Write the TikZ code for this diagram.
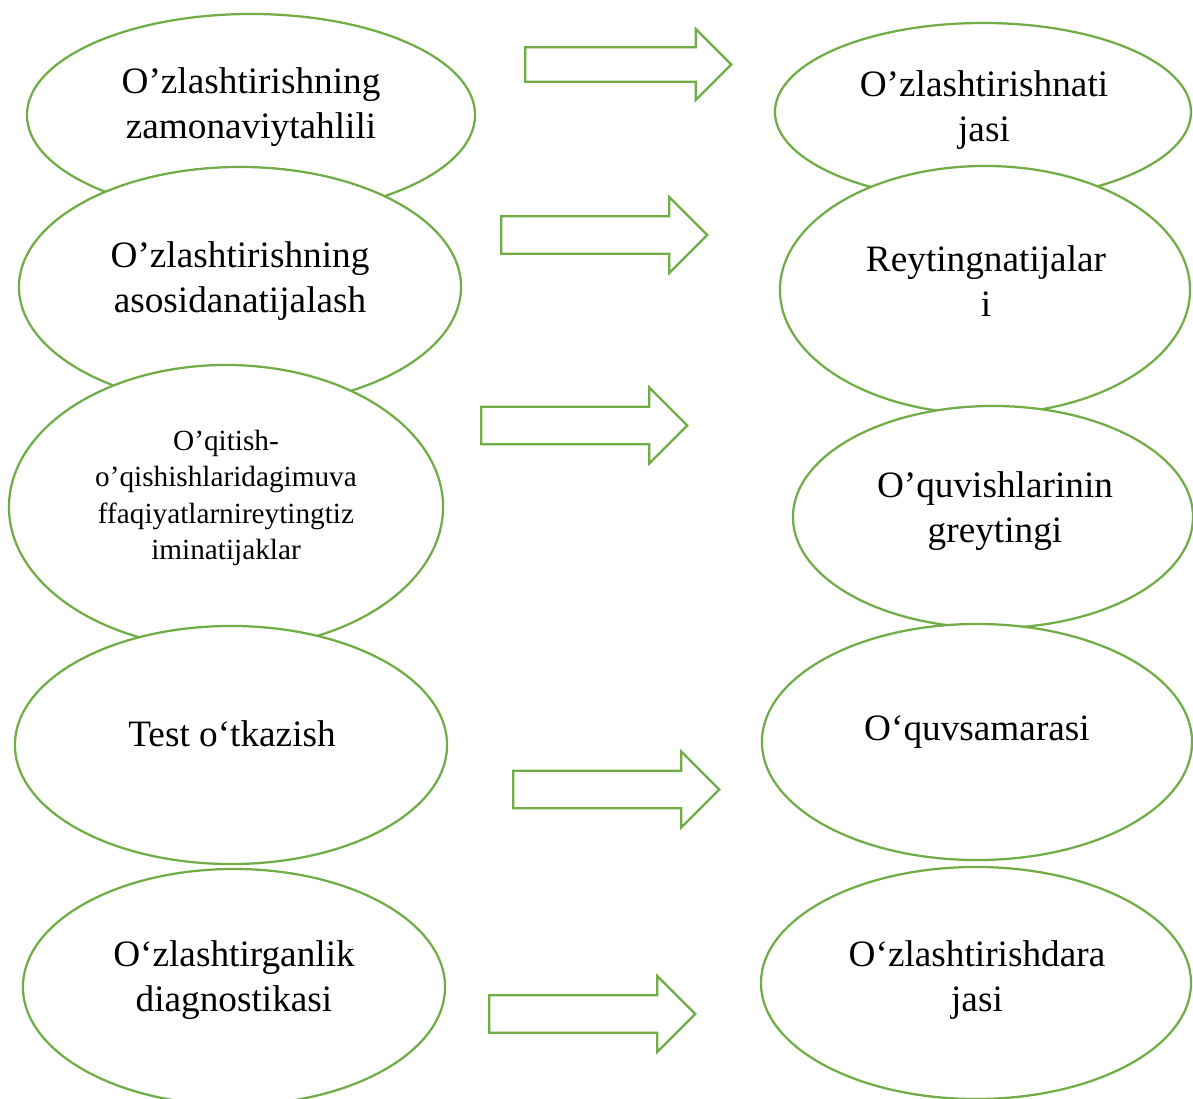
\documentclass[tikz,border=0pt]{standalone}
\usepackage{fontspec}
\setmainfont{Liberation Serif}
\usepackage{xcolor}
\usepackage{tikz}
\usetikzlibrary{shapes.geometric,shapes.arrows}
\definecolor{LeafGreen}{RGB}{112, 173, 71}

\begin{document}
\begin{tikzpicture}[
  x=0.025cm, y=-0.025cm,
  every node/.style={font=\fontsize{26.5}{32}\selectfont},
  oval/.style={ellipse, draw=LeafGreen, fill=white, line width=1.6pt, inner sep=0pt},
  lbl/.style={align=center, inner sep=0pt},
  blk/.style={single arrow, draw=LeafGreen, fill=white, line width=1.6pt, inner xsep=0pt, inner ysep=0.44cm,
              single arrow head extend=0.48cm, single arrow tip angle=90, minimum height=5.15cm, anchor=tail}
]
\useasboundingbox (0,0) rectangle (1193,1099);
\fill[white] (0,0) rectangle (1193,1099);

% left column
\node[oval, minimum width=11.2cm, minimum height=5.05cm] (zam) at (251, 115) {};
\node[lbl] (zamT) at (251, 107) {O’zlashtirishning\\zamonaviytahlili};
\node[oval, minimum width=11.05cm, minimum height=6.0cm] (asos) at (240, 287) {};
\node[lbl] (asosT) at (240, 281) {O’zlashtirishning\\asosidanatijalash};
\node[oval, minimum width=10.85cm, minimum height=7.1cm] (oqit) at (226, 507) {};
\node[lbl, font=\fontsize{20.8}{26}\selectfont] (oqitT) at (226, 498) {O’qitish-\\o’qishishlaridagimuva\\ffaqiyatlarnireytingtiz\\iminatijaklar};
\node[oval, minimum width=10.8cm, minimum height=5.95cm] (test) at (231, 745) {};
\node[lbl] (testT) at (232, 734) {Test o‘tkazish};
\node[oval, minimum width=10.55cm, minimum height=5.9cm] (diag) at (234, 987) {};
\node[lbl] (diagT) at (234, 980) {O‘zlashtirganlik\\diagnostikasi};

% right column
\node[oval, minimum width=10.4cm, minimum height=4.45cm] (nat) at (983, 112) {};
\node[lbl] (natT) at (984, 110) {O’zlashtirishnati\\jasi};
\node[oval, minimum width=10.25cm, minimum height=6.2cm] (reyt) at (985, 290) {};
\node[lbl] (reytT) at (986, 281) {Reytingnatijalar\\i};
\node[oval, minimum width=10.0cm, minimum height=5.55cm] (oquv) at (993, 517) {};
\node[lbl] (oquvT) at (995, 511) {O’quvishlarinin\\greytingi};
\node[oval, minimum width=10.75cm, minimum height=5.9cm] (sam) at (977, 742) {};
\node[lbl] (samT) at (977, 732) {O‘quvsamarasi};
\node[oval, minimum width=10.75cm, minimum height=5.8cm] (dar) at (976, 983) {};
\node[lbl] (darT) at (977, 980) {O‘zlashtirishdara\\jasi};

% block arrows
\node[blk, inner ysep=0.4cm, single arrow head extend=0.46cm] (ar1) at (524, 64.5) {};
\node[blk] (ar2) at (500, 235) {};
\node[blk] (ar3) at (480, 425.5) {};
\node[blk] (ar4) at (512, 789.5) {};
\node[blk] (ar5) at (488, 1014) {};
\end{tikzpicture}
\end{document}
